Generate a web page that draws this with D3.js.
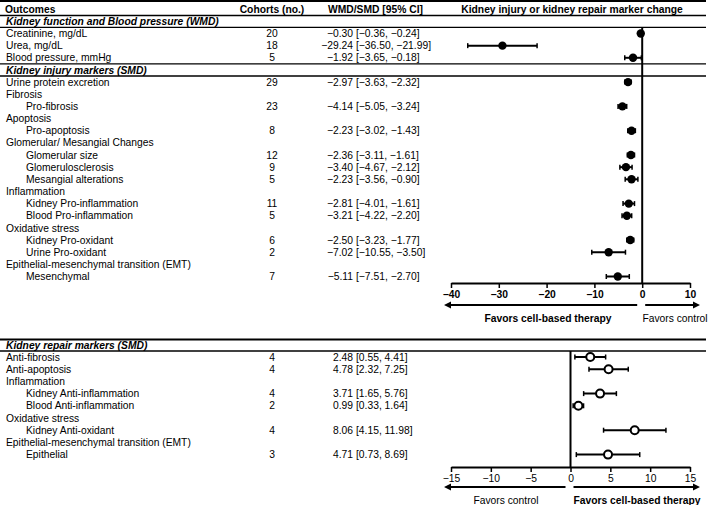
<!DOCTYPE html>
<html>
<head>
<meta charset="utf-8">
<script src="https://cdn.jsdelivr.net/npm/d3@7"></script>
<style>
  body { margin: 0; background: #fff; }
  svg { font-family: "Liberation Sans", Arial, sans-serif; font-size: 10.3px; }
  .bold { font-weight: bold; }
  .section { font-weight: bold; font-style: italic; }
</style>
</head>
<body>
<div id="chart"></div>
<script>
// ---- data: kidney injury markers (top panel) ----
const injuryLabels = ["Creatinine, mg/dL", "Urea, mg/dL", "Blood pressure, mmHg",
  "Kidney injury markers (SMD)", "Urine protein excretion", "Fibrosis", "Pro-fibrosis",
  "Apoptosis", "Pro-apoptosis", "Glomerular/ Mesangial Changes", "Glomerular size",
  "Glomerulosclerosis", "Mesangial alterations", "Inflammation", "Kidney Pro-inflammation",
  "Blood Pro-inflammation", "Oxidative stress", "Kidney Pro-oxidant", "Urine Pro-oxidant",
  "Epithelial-mesenchymal transition (EMT)", "Mesenchymal"];
const injuryKinds = ["row", "row", "row", "section", "row", "group", "sub", "group", "sub",
  "group", "sub", "sub", "sub", "group", "sub", "sub", "group", "sub", "sub", "group", "sub"];
const injuryCohorts = [20, 18, 5, null, 29, null, 23, null, 8, null, 12, 9, 5, null, 11, 5, null, 6, 2, null, 7];
const injuryEst  = [-0.30, -29.24, -1.92, null, -2.97, null, -4.14, null, -2.23, null, -2.36, -3.40, -2.23, null, -2.81, -3.21, null, -2.50, -7.02, null, -5.11];
const injuryLow  = [-0.36, -36.50, -3.65, null, -3.63, null, -5.05, null, -3.02, null, -3.11, -4.67, -3.56, null, -4.01, -4.22, null, -3.23, -10.55, null, -7.51];
const injuryHigh = [-0.24, -21.99, -0.18, null, -2.32, null, -3.24, null, -1.43, null, -1.61, -2.12, -0.90, null, -1.61, -2.20, null, -1.77, -3.50, null, -2.70];
const injuryTicks = [-40, -30, -20, -10, 0, 10];

// ---- data: kidney repair markers (bottom panel) ----
const repairLabels = ["Anti-fibrosis", "Anti-apoptosis", "Inflammation", "Kidney Anti-inflammation",
  "Blood Anti-inflammation", "Oxidative stress", "Kidney Anti-oxidant",
  "Epithelial-mesenchymal transition (EMT)", "Epithelial"];
const repairKinds = ["row", "row", "group", "sub", "sub", "group", "sub", "group", "sub"];
const repairCohorts = [4, 4, null, 4, 2, null, 4, null, 3];
const repairEst  = [2.48, 4.78, null, 3.71, 0.99, null, 8.06, null, 4.71];
const repairLow  = [0.55, 2.32, null, 1.65, 0.33, null, 4.15, null, 0.73];
const repairHigh = [4.41, 7.25, null, 5.76, 1.64, null, 11.98, null, 8.69];
const repairTicks = [-15, -10, -5, 0, 5, 10, 15];

const width = 709, height = 505;
const fmt = d3.format(".2f");

const svg = d3.select("#chart").append("svg")
  .attr("width", width)
  .attr("height", height);

// column positions
const col = { label: 6, indent: 26, cohort: 272, est: 353, ci: 356 };

function hline(y, w) {
  svg.append("line")
    .attr("x1", 0).attr("x2", 706)
    .attr("y1", y).attr("y2", y)
    .attr("stroke", "#000")
    .attr("stroke-width", w || 1.4);
}

function arrow(x1, x2, yy) {
  // one filled outline: shaft from x1, head with its tip at x2
  const dir = x2 > x1 ? 1 : -1;
  const hx = x2 - dir * 7, t = 1, h = 3.5;
  const d = `M${x1},${yy - t}L${hx},${yy - t}L${hx},${yy - h}L${x2},${yy}` +
            `L${hx},${yy + h}L${hx},${yy + t}L${x1},${yy + t}Z`;
  svg.append("path").attr("d", d).attr("fill", "#000");
}

function drawPanel(p) {
  const rows = p.labels.map((label, i) => ({
    label, kind: p.kinds[i], n: p.cohorts[i], est: p.est[i], lo: p.low[i], hi: p.high[i], i
  }));

  const y = d3.scaleLinear().domain([0, rows.length - 1]).range(p.yRange);
  const x = d3.scaleLinear().domain(d3.extent(p.ticks)).range([451, 690]);
  const g = svg.append("g");

  // table text
  g.selectAll("text.lab").data(rows).join("text")
    .attr("class", d => d.kind === "section" ? "lab section" : "lab")
    .attr("x", d => d.kind === "sub" ? col.indent : col.label)
    .attr("y", d => y(d.i))
    .attr("dy", "0.35em")
    .text(d => d.label);

  const data = rows.filter(d => d.est !== null);

  g.selectAll("text.n").data(data).join("text")
    .attr("class", "n")
    .attr("x", col.cohort).attr("y", d => y(d.i))
    .attr("dy", "0.35em").attr("text-anchor", "middle")
    .text(d => d.n);

  g.selectAll("text.est").data(data).join("text")
    .attr("class", "est")
    .attr("x", col.est).attr("y", d => y(d.i))
    .attr("dy", "0.35em").attr("text-anchor", "end")
    .text(d => fmt(d.est));

  g.selectAll("text.interval").data(data).join("text")
    .attr("class", "interval")
    .attr("x", col.ci).attr("y", d => y(d.i))
    .attr("dy", "0.35em")
    .text(d => `[${fmt(d.lo)}, ${fmt(d.hi)}]`);

  // zero line
  g.append("line")
    .attr("x1", x(0)).attr("x2", x(0))
    .attr("y1", p.zeroTop).attr("y2", p.axisY)
    .attr("stroke", "#000").attr("stroke-width", 2);

  // CI whiskers
  const ci = g.selectAll("g.whisker").data(data).join("g").attr("class", "whisker");
  ci.append("line")
    .attr("x1", d => x(d.lo)).attr("x2", d => x(d.hi))
    .attr("y1", d => y(d.i)).attr("y2", d => y(d.i))
    .attr("stroke", "#000").attr("stroke-width", 2);
  ci.append("line")
    .attr("x1", d => x(d.lo)).attr("x2", d => x(d.lo))
    .attr("y1", d => y(d.i) - 2.5).attr("y2", d => y(d.i) + 2.5)
    .attr("stroke", "#000").attr("stroke-width", 1.5);
  ci.append("line")
    .attr("x1", d => x(d.hi)).attr("x2", d => x(d.hi))
    .attr("y1", d => y(d.i) - 2.5).attr("y2", d => y(d.i) + 2.5)
    .attr("stroke", "#000").attr("stroke-width", 1.5);
  ci.append("circle")
    .attr("cx", d => x(d.est)).attr("cy", d => y(d.i))
    .attr("r", p.hollow ? 4 : 4.2)
    .attr("fill", p.hollow ? "#fff" : "#000")
    .attr("stroke", "#000").attr("stroke-width", p.hollow ? 2 : 0);

  // axis
  const axis = g.append("g")
    .attr("transform", `translate(0,${p.axisY})`)
    .call(d3.axisBottom(x).tickValues(p.ticks).tickSize(5).tickSizeOuter(0).tickPadding(3));
  axis.select(".domain").attr("stroke-width", 2);
  axis.selectAll(".tick line").attr("stroke-width", 1.5);
  axis.selectAll(".tick text")
    .attr("font-family", "Liberation Sans, Arial, sans-serif")
    .attr("font-size", 10.3)
    .attr("font-weight", p.tickBold ? "bold" : "normal");

  // favour arrows
  arrow(x(0) - 5, 444, p.arrowY);
  arrow(x(0) + 3, 700, p.arrowY);
  p.favors.forEach(f => {
    g.append("text")
      .attr("x", f.x).attr("y", p.arrowY + 13)
      .attr("dy", "0.35em").attr("text-anchor", "middle")
      .attr("font-weight", f.bold ? "bold" : "normal")
      .text(f.text);
  });

  return y;
}

// ---- header ----
hline(1, 2);
svg.append("text").attr("class", "bold").attr("x", 5).attr("y", 9).attr("dy", "0.35em").text("Outcomes");
svg.append("text").attr("class", "bold").attr("x", col.cohort).attr("y", 9).attr("dy", "0.35em")
  .attr("text-anchor", "middle").text("Cohorts (no.)");
svg.append("text").attr("class", "bold").attr("x", 328).attr("y", 9).attr("dy", "0.35em").text("WMD/SMD [95% CI]");
svg.append("text").attr("class", "bold").attr("x", 572).attr("y", 9).attr("dy", "0.35em")
  .attr("text-anchor", "middle").text("Kidney injury or kidney repair marker change");
hline(15.5);
svg.append("text").attr("class", "section").attr("x", col.label).attr("y", 21.5).attr("dy", "0.35em")
  .text("Kidney function and Blood pressure (WMD)");
hline(27.4);

const yTop = drawPanel({
  labels: injuryLabels, kinds: injuryKinds, cohorts: injuryCohorts,
  est: injuryEst, low: injuryLow, high: injuryHigh, ticks: injuryTicks,
  yRange: [33.5, 276.5], zeroTop: 27.4, axisY: 283, arrowY: 305, tickBold: true, hollow: false,
  favors: [{ text: "Favors cell-based therapy", x: 548, bold: true },
           { text: "Favors control", x: 675, bold: false }]
});
hline(yTop(2.5));
hline(yTop(3.5));

// ---- bottom panel ----
hline(339.5, 1.8);
svg.append("text").attr("class", "section").attr("x", col.label).attr("y", 345).attr("dy", "0.35em")
  .text("Kidney repair markers (SMD)");
hline(351);

drawPanel({
  labels: repairLabels, kinds: repairKinds, cohorts: repairCohorts,
  est: repairEst, low: repairLow, high: repairHigh, ticks: repairTicks,
  yRange: [357, 454.6], zeroTop: 351, axisY: 467, arrowY: 487, tickBold: false, hollow: true,
  favors: [{ text: "Favors control", x: 506, bold: false },
           { text: "Favors cell-based therapy", x: 637, bold: true }]
});
</script>
</body>
</html>
